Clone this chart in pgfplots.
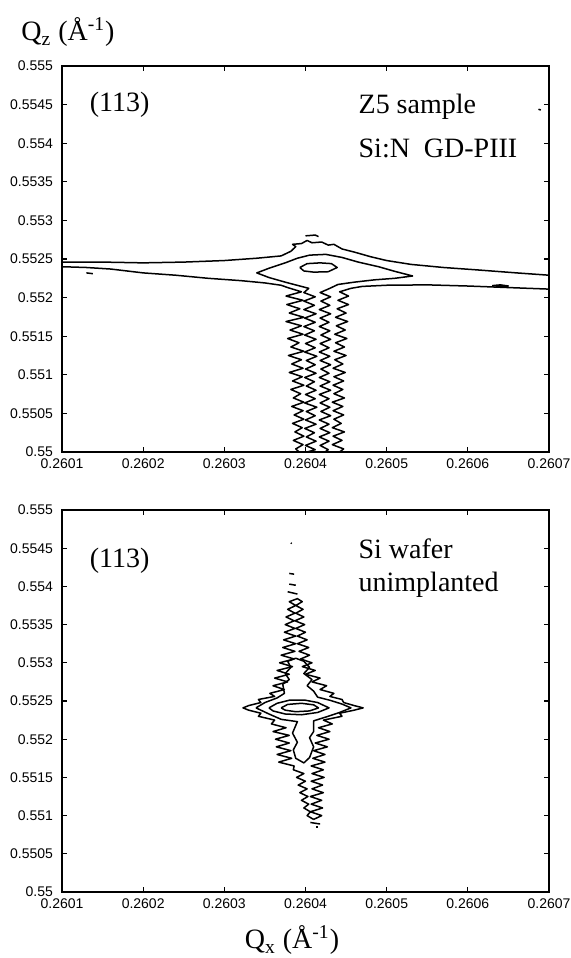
\documentclass[border=0pt]{standalone}
\usepackage{fontspec}
\setmainfont{Liberation Serif}
\newfontfamily\arial{Liberation Sans}
\usepackage{pgfplots}
\pgfplotsset{compat=1.18}

% x in units of 1e-4 A^-1 above 0.26, y in units of 1e-4 A^-1 above 0.55
\pgfplotsset{
  rsm/.style={
    scale only axis, width=243.5pt,
    xmin=1, xmax=7, ymin=0, ymax=50,
    xtick={1,2,3,4,5,6,7},
    xticklabels={0.2601,0.2602,0.2603,0.2604,0.2605,0.2606,0.2607},
    ytick={0,5,10,15,20,25,30,35,40,45,50},
    yticklabels={0.55,0.5505,0.551,0.5515,0.552,0.5525,0.553,0.5535,0.554,0.5545,0.555},
    tick align=inside, major tick length=2.5pt,
    tick label style={font=\arial\fontsize{7}{7}\selectfont},
    yticklabel style={xshift=-1pt},
    axis line style={line width=0.8pt},
    every tick/.style={black, line width=0.6pt},
  },
}
\tikzset{
  cl/.style={black, line width=0.75pt, line join=round},
  big/.style={font=\fontsize{14}{16}\selectfont},
}

\begin{document}
\begin{tikzpicture}
\useasboundingbox (0,0) rectangle (285.5pt,479pt);

\node[big] at (34pt,463pt) {Q\textsubscript{z} (Å\textsuperscript{-1})};
\node[big] at (146pt,9pt) {Q\textsubscript{x} (Å\textsuperscript{-1})};

% ---------------- Z5 sample ----------------
\begin{axis}[rsm, at={(31pt,253pt)}, anchor=south west, height=193pt]
% outer contour, upper edge of the streak
\addplot[cl] coordinates {(1,24.6) (1.5,24.6) (2.0,24.5) (2.5,24.6) (3.0,24.8) (3.4,25.1) (3.7,25.4)
 (3.82,26.0) (3.88,26.6) (3.84,26.9) (3.95,27.0) (4.02,27.4) (4.08,27.1) (4.2,27.2) (4.28,26.8)
 (4.35,26.9) (4.45,26.3) (4.6,25.9) (4.8,25.3) (5.0,24.8) (5.3,24.3) (5.7,23.9) (6.1,23.6) (6.6,23.2) (7,22.9)};
\addplot[cl] coordinates {(4.0,28.0) (4.12,28.1) (4.16,27.9)};
% outer contour, lower left edge and left side of the column
\addplot[cl] coordinates {(1,24.0) (1.3,23.9) (1.6,23.7) (2.0,23.2) (2.4,22.9) (2.8,22.5) (3.2,22.2) (3.5,21.9) (3.7,21.6)
 (3.78,21.3) (3.95,20.75) (3.76,20.2) (3.97,19.65) (3.77,19.1) (3.93,18.55) (3.8,18.0) (3.98,17.45) (3.76,16.9)
 (3.95,16.35) (3.81,15.8) (3.97,15.25) (3.78,14.7) (3.92,14.15) (3.82,13.6) (3.98,13.05) (3.79,12.5) (3.95,11.95)
 (3.83,11.4) (3.97,10.85) (3.8,10.3) (3.96,9.75) (3.84,9.2) (3.98,8.65) (3.82,8.1) (3.94,7.55) (3.85,7.0)
 (3.98,6.45) (3.83,5.9) (3.97,5.35) (3.86,4.8) (3.98,4.25) (3.84,3.7) (3.96,3.15) (3.87,2.6) (3.98,2.05)
 (3.85,1.5) (3.97,0.95) (3.88,0.4) (3.92,0)};
% outer contour, right side of the column and lower right edge
\addplot[cl] coordinates {(4.42,0) (4.47,0.4) (4.33,0.95) (4.45,1.5) (4.34,2.05) (4.48,2.6) (4.33,3.15) (4.44,3.7)
 (4.35,4.25) (4.47,4.8) (4.34,5.35) (4.46,5.9) (4.33,6.45) (4.48,7.0) (4.35,7.55) (4.46,8.1) (4.34,8.65) (4.47,9.2)
 (4.35,9.75) (4.49,10.3) (4.34,10.85) (4.46,11.4) (4.36,11.95) (4.5,12.5) (4.35,13.05) (4.48,13.6) (4.37,14.15)
 (4.51,14.7) (4.36,15.25) (4.49,15.8) (4.38,16.35) (4.52,16.9) (4.37,17.45) (4.5,18.0) (4.39,18.55) (4.53,19.1)
 (4.4,19.65) (4.53,20.2) (4.42,20.75) (4.56,21.2) (4.7,21.45) (5.0,21.6) (5.5,21.65) (6.0,21.5) (6.5,21.3) (7,21.1)};
% second contour
\addplot[cl] coordinates {(4.02,0) (4.12,0.3) (4.0,0.85) (4.13,1.4) (4.01,1.95) (4.11,2.5) (3.99,3.05) (4.13,3.6)
 (4.0,4.15) (4.12,4.7) (4.01,5.25) (4.14,5.8) (3.99,6.35) (4.12,6.9) (4.0,7.45) (4.13,8.0) (4.01,8.55) (4.11,9.1)
 (3.99,9.65) (4.13,10.2) (4.0,10.75) (4.12,11.3) (4.01,11.85) (4.14,12.4) (3.99,12.95) (4.12,13.5) (4.0,14.05)
 (4.13,14.6) (3.99,15.15) (4.11,15.7) (3.98,16.25) (4.12,16.8) (3.99,17.35) (4.13,17.9) (3.98,18.45) (4.11,19.0)
 (3.98,19.55) (4.12,20.1) (3.98,20.65) (4.04,21.2) (3.75,22.0) (3.55,22.6) (3.4,23.2) (3.55,23.8) (3.75,24.5)
 (3.9,25.1) (4.05,25.5) (4.25,25.6) (4.45,25.2) (4.65,24.6) (4.9,24.0) (5.1,23.4) (5.32,22.8) (5.1,22.5) (4.85,22.3)
 (4.6,22.0) (4.4,21.7) (4.3,21.2) (4.18,20.65) (4.31,20.1) (4.19,19.55) (4.3,19.0) (4.17,18.45) (4.31,17.9)
 (4.18,17.35) (4.29,16.8) (4.17,16.25) (4.3,15.7) (4.19,15.15) (4.31,14.6) (4.18,14.05) (4.29,13.5) (4.17,12.95)
 (4.3,12.4) (4.18,11.85) (4.31,11.3) (4.19,10.75) (4.29,10.2) (4.17,9.65) (4.3,9.1) (4.18,8.55) (4.31,8.0)
 (4.17,7.45) (4.29,6.9) (4.18,6.35) (4.3,5.8) (4.19,5.25) (4.31,4.7) (4.17,4.15) (4.29,3.6) (4.18,3.05) (4.3,2.5)
 (4.17,1.95) (4.29,1.4) (4.18,0.85) (4.28,0.3) (4.24,0)};
% innermost contour
\addplot[cl] coordinates {(3.93,23.9) (4.02,24.4) (4.18,24.5) (4.32,24.4) (4.39,23.9) (4.28,23.35) (4.1,23.3) (3.98,23.45) (3.93,23.9)};
% small specks
\addplot[cl] coordinates {(1.3,23.2) (1.38,23.1)};
\addplot[cl] coordinates {(6.3,21.55) (6.4,21.65) (6.5,21.5) (6.4,21.45) (6.3,21.55)};
\addplot[cl] coordinates {(6.87,44.4) (6.9,44.3)};
\node[big] at (axis cs:1.71,45.0) {(113)};
\node[big, anchor=base west, inner sep=0pt] at (axis cs:4.65,43.9) {Z5 sample};
\node[big, anchor=base west, inner sep=0pt] at (axis cs:4.65,38.2) {Si:N\ \ GD-PIII};
\end{axis}

% ---------------- Si wafer ----------------
\begin{axis}[rsm, at={(31pt,33pt)}, anchor=south west, height=191pt]
% outer contour
\addplot[cl] coordinates {(4.1,9.5) (4.2,10.0) (4.06,10.5) (4.21,11.0) (4.07,11.5) (4.2,12.0) (4.06,12.5) (4.22,13.0)
 (4.08,13.5) (4.21,14.0) (4.07,14.5) (4.23,15.0) (4.08,15.5) (4.22,16.0) (4.07,16.5) (4.24,17.0) (4.09,17.5)
 (4.24,18.0) (4.1,18.5) (4.27,19.0) (4.12,19.5) (4.29,20.0) (4.14,20.5) (4.3,21.0) (4.16,21.5) (4.33,22.0)
 (4.22,22.5) (4.45,23.0) (4.42,23.4) (4.6,23.8) (4.71,24.1) (4.6,24.4) (4.47,24.8) (4.45,25.2) (4.3,25.6)
 (4.35,26.0) (4.18,26.5) (4.26,27.0) (4.08,27.5) (4.18,28.0) (4.0,28.5) (4.12,29.0) (3.96,29.5) (4.08,30.0)
 (3.94,30.5) (4.05,31.0) (3.92,31.5) (4.04,32.0) (3.9,32.5) (4.02,33.0) (3.9,33.5) (4.0,34.0) (3.88,34.5)
 (3.99,35.0) (3.87,35.5) (3.98,36.0) (3.88,36.5) (3.97,37.0) (3.88,37.5) (3.96,38.0) (3.9,38.4)
 (3.8,38.0) (3.88,37.5) (3.78,37.0) (3.87,36.5) (3.76,36.0) (3.86,35.5) (3.75,35.0) (3.87,34.5) (3.74,34.0)
 (3.88,33.5) (3.73,33.0) (3.88,32.5) (3.72,32.0) (3.87,31.5) (3.7,31.0) (3.86,30.5) (3.68,30.0) (3.84,29.5)
 (3.65,29.0) (3.8,28.5) (3.62,28.0) (3.78,27.5) (3.6,27.0) (3.74,26.5) (3.56,26.0) (3.62,25.6) (3.42,25.2)
 (3.45,24.8) (3.3,24.4) (3.23,24.1) (3.3,23.8) (3.45,23.4) (3.42,23.0) (3.62,22.5) (3.58,22.0) (3.76,21.5)
 (3.6,21.0) (3.8,20.5) (3.63,20.0) (3.8,19.5) (3.64,19.0) (3.82,18.5) (3.65,18.0) (3.83,17.5) (3.67,17.0)
 (3.86,16.5) (3.85,16.0) (3.98,15.5) (3.89,15.0) (4.0,14.5) (3.91,14.0) (4.02,13.5) (3.93,13.0) (4.03,12.5)
 (3.95,12.0) (4.04,11.5) (3.98,11.0) (4.06,10.5) (4.02,10.0) (4.1,9.5)};
% second contour with its upper and lower lobes
\addplot[cl] coordinates {(3.39,24.1) (3.5,24.8) (3.65,25.4) (3.74,26.0) (3.72,27.2) (3.8,27.8) (3.75,28.6)
 (3.82,29.4) (3.78,30.2) (3.88,30.6) (3.98,30.2) (4.05,29.4) (3.98,28.6) (4.08,27.8) (4.02,27.0) (4.1,26.3)
 (4.15,25.5) (4.3,25.1) (4.45,24.6) (4.56,24.1) (4.42,23.5) (4.28,23.0) (4.1,22.4) (4.1,21.0) (4.05,20.2)
 (4.1,19.0) (4.05,17.6) (3.98,16.9) (3.88,17.5) (3.85,18.6) (3.9,19.6) (3.84,20.8) (3.9,22.3) (3.7,22.6)
 (3.55,23.3) (3.39,24.1)};
\addplot[cl] coordinates {(3.55,24.1) (3.65,24.7) (3.8,25.1) (4.0,25.1) (4.15,24.8) (4.29,24.1) (4.15,23.5) (3.95,23.2) (3.75,23.3) (3.6,23.7) (3.55,24.1)};
\addplot[cl] coordinates {(3.7,24.1) (3.78,24.55) (3.95,24.7) (4.1,24.5) (4.16,24.1) (4.05,23.7) (3.88,23.6) (3.75,23.8) (3.7,24.1)};
% isolated dashes
\addplot[cl] coordinates {(3.78,39.3) (3.9,39.0)};
\addplot[cl] coordinates {(3.8,40.3) (3.88,40.15)};
\addplot[cl] coordinates {(3.8,41.7) (3.86,41.6)};
\addplot[cl] coordinates {(3.82,45.7) (3.83,45.6)};
\addplot[cl] coordinates {(4.06,9.1) (4.18,8.9)};
\addplot[cl] coordinates {(4.13,8.5) (4.16,8.5)};
\node[big] at (axis cs:1.71,43.3) {(113)};
\node[big, anchor=base west, inner sep=0pt] at (axis cs:4.65,43.7) {Si wafer};
\node[big, anchor=base west, inner sep=0pt] at (axis cs:4.65,39.3) {unimplanted};
\end{axis}
\end{tikzpicture}
\end{document}
